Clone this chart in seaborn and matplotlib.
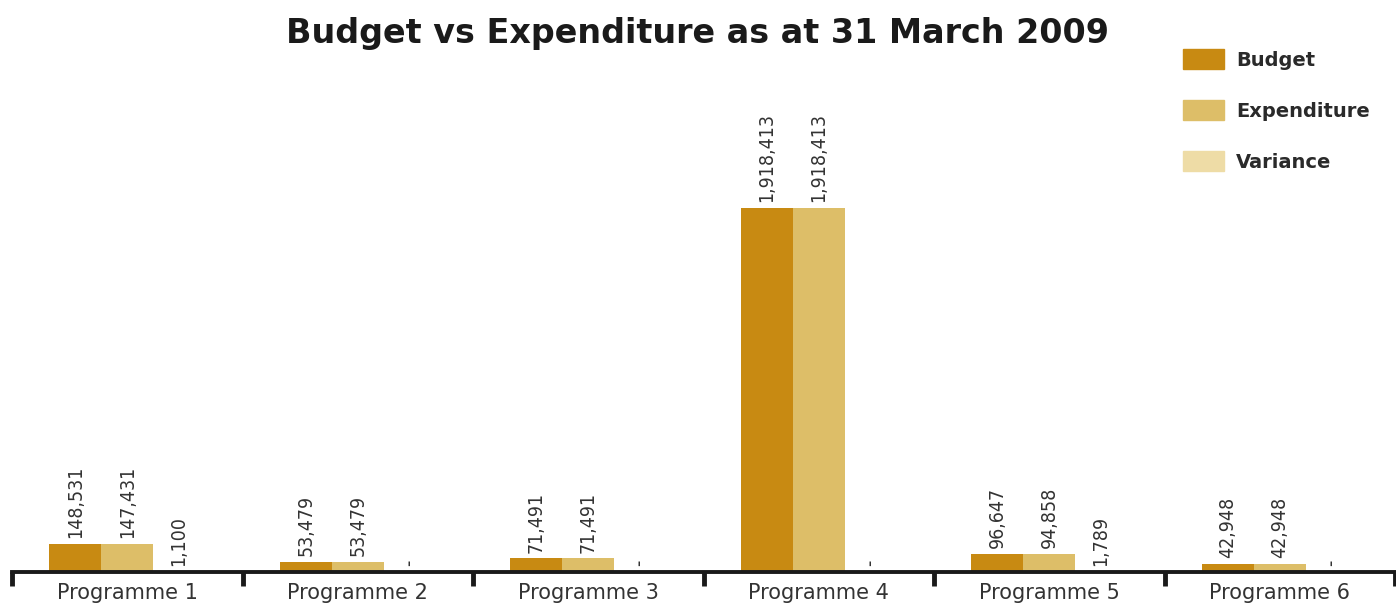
import matplotlib
matplotlib.use("Agg")
import matplotlib.pyplot as plt
import seaborn as sns
import pandas as pd
import numpy as np

# Budget vs expenditure per programme (Rand)
programmes = ["Programme 1", "Programme 2", "Programme 3",
              "Programme 4", "Programme 5", "Programme 6"]
budget = [148531, 53479, 71491, 1918413, 96647, 42948]
expenditure = [147431, 53479, 71491, 1918413, 94858, 42948]
variance = [1100, 0, 0, 0, 1789, 0]
series = ["Budget", "Expenditure", "Variance"]
colours = ["#C88A12", "#DDBE68", "#EEDCA6"]

df = pd.DataFrame({
    "Programme": programmes * 3,
    "Series": np.repeat(series, len(programmes)),
    "Amount": budget + expenditure + variance,
})

sns.set_theme(style="white")
plt.rcParams["font.family"] = ["DejaVu Sans"]

fig = plt.figure(figsize=(13.96, 6.03), dpi=100)
ax = fig.add_axes([12 / 1396, 31 / 603, 1383 / 1396, 552 / 603])

sns.barplot(data=df, x="Programme", y="Amount", hue="Series",
            palette=colours, width=0.675, gap=0, ax=ax,
            saturation=1, errorbar=None, legend=False, linewidth=0)

ax.set_xlim(-0.5, 5.5)
ax.set_ylim(0, 2909250)

# Value labels, rotated, above each bar
for cont, vals in zip(ax.containers, [budget, expenditure, variance]):
    labels = [f"{v:,}" if v else "-" for v in vals]
    ax.bar_label(cont, labels=labels, rotation=90, padding=4,
                 fontsize=14, color="#333333", fontstretch="condensed")

# Axis styling: only the baseline with separators between programmes
for s in ["top", "left", "right"]:
    ax.spines[s].set_visible(False)
ax.spines["bottom"].set_linewidth(2.8)
ax.spines["bottom"].set_color("#1a1a1a")
ax.set_yticks([])
ax.set_xlabel("")
ax.set_ylabel("")
ax.set_xticks(range(len(programmes)))
ax.set_xticklabels(programmes, fontsize=15, color="#333333")
ax.tick_params(axis="x", which="major", bottom=False, length=0, pad=8)
ax.set_xticks(np.arange(-0.5, 6.0, 1.0), minor=True)
ax.tick_params(axis="x", which="minor", bottom=True, direction="out",
               length=10, width=3.5, color="#1a1a1a")

fig.text(0.5, 1 - 33 / 603, "Budget vs Expenditure as at 31 March 2009",
         ha="center", va="center", fontsize=24, fontweight="bold",
         color="#1a1a1a")

handles = [plt.Rectangle((0, 0), 1, 1, color=c) for c in colours]
leg = fig.legend(handles, series, loc="upper left",
                 bbox_to_anchor=(1165 / 1396, 1 - 32 / 603),
                 frameon=False, handlelength=2.15, handleheight=1.15,
                 labelspacing=1.58, handletextpad=0.6,
                 prop={"size": 14, "weight": "bold"})
for t in leg.get_texts():
    t.set_color("#2a2a2a")

fig.savefig("out.png", dpi=100, facecolor="white")
